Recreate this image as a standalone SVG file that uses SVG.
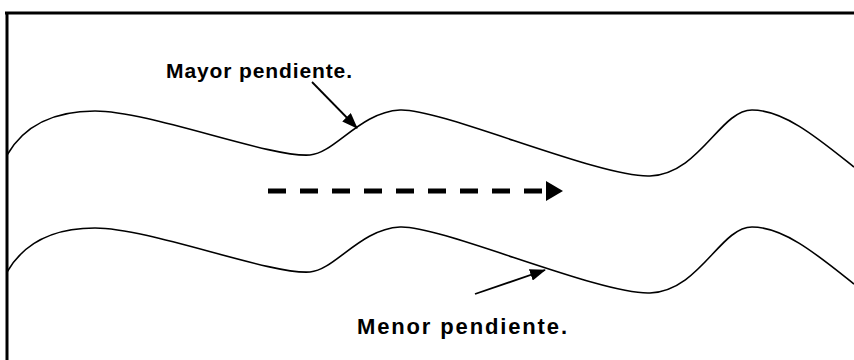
<svg xmlns="http://www.w3.org/2000/svg" width="854" height="360" viewBox="0 0 854 360">
<style>
.frame{stroke:#000;stroke-width:3;fill:none}
.wave{stroke:#000;stroke-width:1.6;fill:none}
.ptr{stroke:#000;stroke-width:1.8;fill:none}
.lbl{font-family:"Liberation Sans",Arial,sans-serif;font-weight:bold;font-size:21px;fill:#000}
</style>
<defs>
<marker id="ah2" markerWidth="16" markerHeight="12" refX="15" refY="6" markerUnits="userSpaceOnUse" orient="auto">
<path d="M0,0 L16,6 L0,12 z" fill="#000"/>
</marker>
</defs>
<rect width="854" height="360" fill="#fff"/>
<g id="frame">
<line class="frame" x1="5" y1="13" x2="854" y2="13"/>
<line class="frame" x1="7" y1="12" x2="7" y2="360"/>
</g>
<g id="upper-bank">
<path class="wave" d="M7,155 C25,124 55,111 95,111 C150,111 270,158 310,155 C335,153 360,112 400,110 C440,108 600,178 650,176 C700,174 720,110 752,110 C785,110 820,140 854,167"/>
</g>
<g id="lower-bank">
<path class="wave" transform="translate(0,117)" d="M7,155 C25,124 55,111 95,111 C150,111 270,158 310,155 C335,153 360,112 400,110 C440,108 600,178 650,176 C700,174 720,110 752,110 C785,110 820,140 854,167"/>
</g>
<g id="label-mayor">
<text class="lbl" x="166" y="78" textLength="186" lengthAdjust="spacing">Mayor pendiente.</text>
</g>
<g id="label-menor">
<text class="lbl" x="357" y="334" style="font-size:22px" textLength="210" lengthAdjust="spacing">Menor pendiente.</text>
</g>
<g id="connectors">
<line class="ptr" x1="312" y1="82" x2="357" y2="128" marker-end="url(#ah2)"/>
<line class="ptr" x1="475" y1="294" x2="545" y2="270" marker-end="url(#ah2)"/>
<line x1="268" y1="191" x2="547" y2="191" stroke="#000" stroke-width="5" stroke-dasharray="18 14"/>
<path d="M546,181 L563,191 L546,201 z" fill="#000"/>
</g>
</svg>
